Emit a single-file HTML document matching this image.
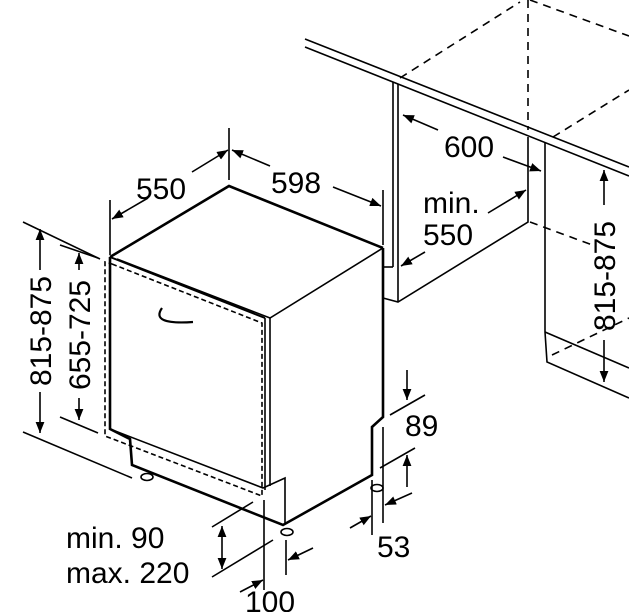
<!DOCTYPE html>
<html><head><meta charset="utf-8"><style>
html,body{margin:0;padding:0;background:#fff;}
svg{display:block;}
text{font-family:"Liberation Sans",Arial,sans-serif;font-size:30px;fill:#000;}
</style></head><body>
<svg width="629" height="612" viewBox="0 0 629 612" xmlns="http://www.w3.org/2000/svg">
<defs>
<marker id="a" viewBox="0 0 10 10" refX="10" refY="5" markerWidth="11" markerHeight="11" markerUnits="userSpaceOnUse" orient="auto"><path d="M0,1 L10,5 L0,9 z" fill="#000"/></marker>
</defs>
<g stroke="#000" fill="none" stroke-width="1.6">
<!-- cabinet right -->
<line x1="305" y1="39" x2="629" y2="167"/>
<line x1="305" y1="47" x2="629" y2="176"/>
<line x1="393" y1="82" x2="393" y2="267"/>
<line x1="398" y1="84" x2="398" y2="302"/>
<polyline points="383,267 393,267"/>
<polyline points="383,298 398,302 528,222 528,137"/>
<line x1="545" y1="143" x2="545" y2="332"/>
<line x1="545" y1="332" x2="629" y2="368"/>
<polyline points="545,332 547,362 629,398"/>
<g stroke-dasharray="8,6">
<line x1="400" y1="78" x2="520" y2="2"/>
<line x1="528" y1="0" x2="528" y2="130"/>
<line x1="530" y1="0" x2="629" y2="36"/>
<line x1="553" y1="137" x2="629" y2="90"/>
<line x1="530" y1="222" x2="595" y2="246"/>
<line x1="552" y1="355" x2="629" y2="318"/>
</g>
<!-- box -->
<polyline points="110,257 229,186 383,248" stroke-width="2.6"/>
<polyline points="117,259 270,318 383,248"/>
<polyline points="110,257 110,429 130,439 132,465 283,525 372,475 372,427 383,417 383,248" stroke-width="2.6"/>
<polyline points="110,429 263,488 285,478 285,523"/>
<line x1="110" y1="257" x2="265" y2="318" stroke-width="2"/>
<line x1="265" y1="318" x2="265" y2="490"/>
<line x1="270" y1="318" x2="270" y2="486"/>
<g stroke-dasharray="5,3">
<polyline points="112,264 262,323 262,496 105,436 105,262 112,264"/>
</g>
<path d="M162,308 Q150,325 193,322" stroke-width="2.2"/>
<!-- feet -->
<ellipse cx="147" cy="477" rx="6" ry="3.5"/>
<ellipse cx="287" cy="532" rx="6" ry="3.5"/>
<ellipse cx="377" cy="488" rx="6" ry="3.5"/>
<!-- left dims -->
<line x1="23" y1="222" x2="100" y2="259"/>
<line x1="23" y1="432" x2="132" y2="478"/>
<line x1="60" y1="245" x2="98" y2="258"/>
<line x1="60" y1="417" x2="98" y2="433"/>
<line x1="40" y1="270" x2="40" y2="229" marker-end="url(#a)"/>
<line x1="40" y1="392" x2="40" y2="433" marker-end="url(#a)"/>
<line x1="79" y1="270" x2="79" y2="253" marker-end="url(#a)"/>
<line x1="79" y1="398" x2="79" y2="420" marker-end="url(#a)"/>
<!-- top dims -->
<line x1="110" y1="200" x2="110" y2="255"/>
<line x1="229" y1="128" x2="229" y2="180"/>
<line x1="383" y1="190" x2="383" y2="245"/>
<line x1="148" y1="198" x2="112" y2="219" marker-end="url(#a)"/>
<line x1="192" y1="172" x2="228" y2="150" marker-end="url(#a)"/>
<line x1="270" y1="166" x2="232" y2="150" marker-end="url(#a)"/>
<line x1="333" y1="187" x2="381" y2="206" marker-end="url(#a)"/>
<!-- 600 / min 550 -->
<line x1="438" y1="130" x2="403" y2="115" marker-end="url(#a)"/>
<line x1="503" y1="157" x2="541" y2="171" marker-end="url(#a)"/>
<line x1="488" y1="213" x2="526" y2="190" marker-end="url(#a)"/>
<line x1="425" y1="252" x2="401" y2="266" marker-end="url(#a)"/>
<!-- right 815-875 -->
<line x1="604" y1="205" x2="604" y2="170" marker-end="url(#a)"/>
<line x1="604" y1="340" x2="604" y2="382" marker-end="url(#a)"/>
<!-- 89 / 53 -->
<line x1="390" y1="415" x2="425" y2="395"/>
<line x1="380" y1="468" x2="415" y2="448"/>
<line x1="407" y1="370" x2="407" y2="400" marker-end="url(#a)"/>
<line x1="407" y1="487" x2="407" y2="455" marker-end="url(#a)"/>
<line x1="372" y1="480" x2="372" y2="535"/>
<line x1="383" y1="427" x2="383" y2="523"/>
<line x1="350" y1="528" x2="371" y2="516" marker-end="url(#a)"/>
<line x1="412" y1="493" x2="385" y2="505" marker-end="url(#a)"/>
<!-- min90/max220 / 100 -->
<line x1="212" y1="527" x2="253" y2="502"/>
<line x1="212" y1="577" x2="273" y2="540"/>
<line x1="222" y1="547" x2="222" y2="526" marker-end="url(#a)"/>
<line x1="222" y1="547" x2="222" y2="569" marker-end="url(#a)"/>
<line x1="264" y1="500" x2="264" y2="590"/>
<line x1="286" y1="540" x2="286" y2="575"/>
<line x1="240" y1="592" x2="263" y2="580" marker-end="url(#a)"/>
<line x1="313" y1="548" x2="288" y2="560" marker-end="url(#a)"/>
</g>
<g>
<text x="136" y="199">550</text>
<text x="271" y="193">598</text>
<text x="444" y="157">600</text>
<text x="423" y="213">min.</text>
<text x="423" y="245">550</text>
<text x="405" y="436">89</text>
<text x="377" y="557">53</text>
<text x="66" y="548">min. 90</text>
<text x="66" y="583">max. 220</text>
<text x="245" y="612">100</text>
<text transform="translate(51,331) rotate(-90)" text-anchor="middle">815-875</text>
<text transform="translate(90,335) rotate(-90)" text-anchor="middle">655-725</text>
<text transform="translate(615,276) rotate(-90)" text-anchor="middle">815-875</text>
</g>
</svg>
</body></html>
